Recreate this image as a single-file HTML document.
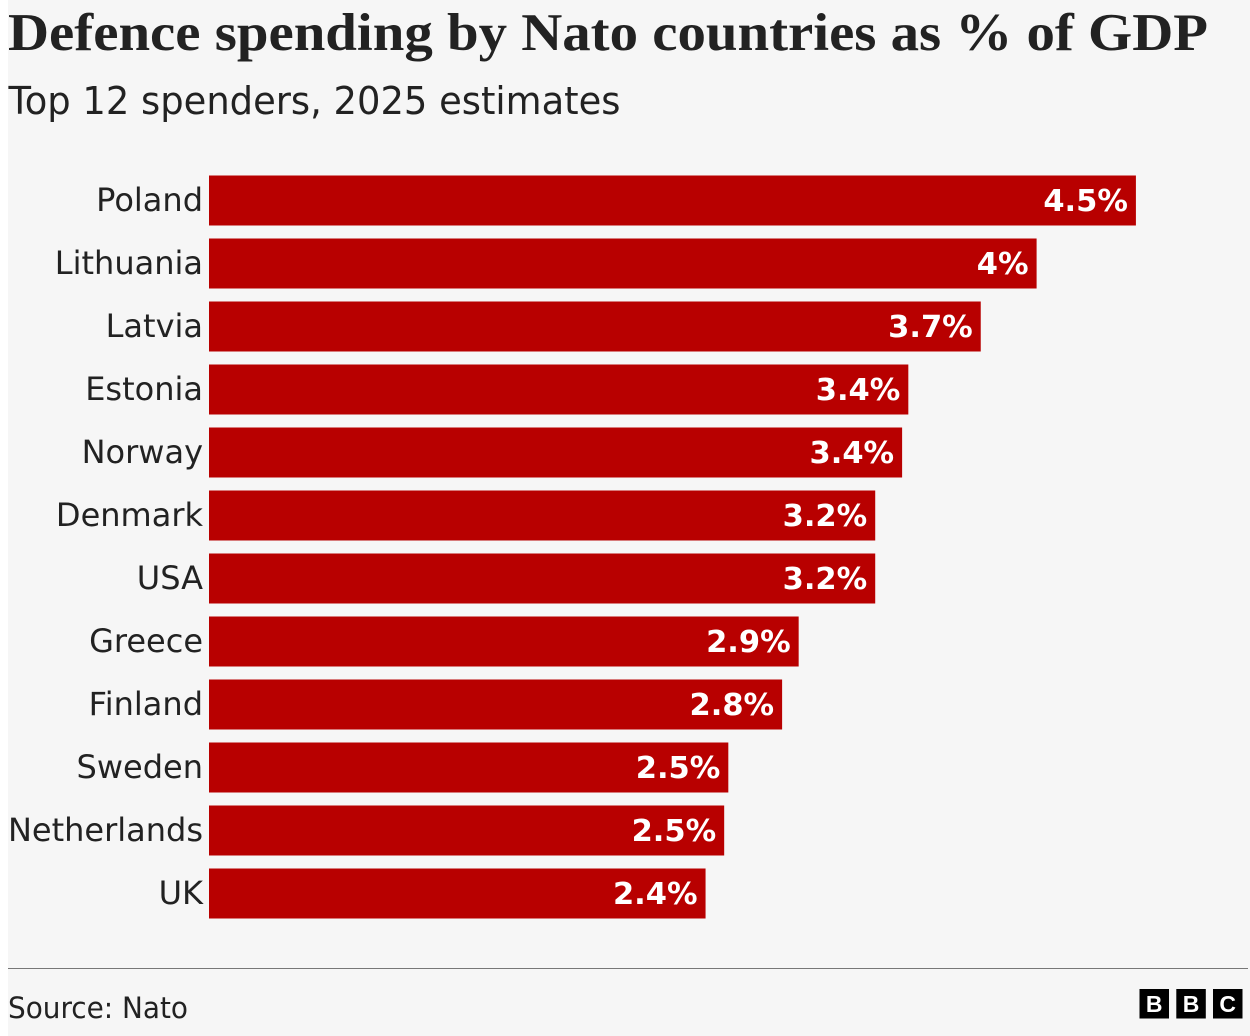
<!DOCTYPE html>
<html lang="en">
<head>
<meta charset="utf-8">
<title>Defence spending by Nato countries as % of GDP</title>
<style>
  html, body { margin: 0; padding: 0; width: 1250px; height: 1036px; background: #ffffff; overflow: hidden; }
  svg { display: block; }
  .cat { font-family: "DejaVu Sans", sans-serif; font-size: 32px; fill: #222222; text-anchor: end; }
  .val { font-family: "DejaVu Sans", sans-serif; font-weight: 700; font-size: 30.5px; fill: #ffffff; text-anchor: end; }
</style>
</head>
<body>
<svg id="chart" xmlns="http://www.w3.org/2000/svg" width="1250" height="1036" viewBox="0 0 1250 1036">
  <rect x="8" y="0" width="1242" height="1036" fill="#f6f6f6"/>
  <text x="8" y="50" font-family="'Liberation Serif', serif" font-weight="700" font-size="53" fill="#222222" textLength="1200" lengthAdjust="spacingAndGlyphs">Defence spending by Nato countries as % of GDP</text>
  <text x="8.5" y="114" font-family="'DejaVu Sans', sans-serif" font-size="38" fill="#222222" textLength="612" lengthAdjust="spacingAndGlyphs">Top 12 spenders, 2025 estimates</text>
  <g id="bars"></g>
  <rect x="8" y="968" width="1240" height="1" fill="#777777"/>
  <text x="8" y="1018" font-family="'DejaVu Sans', sans-serif" font-size="29" fill="#222222" textLength="180" lengthAdjust="spacingAndGlyphs">Source: Nato</text>
  <g>
    <rect x="1139.5" y="989" width="29.5" height="29.5" fill="#000000"/>
    <text x="1154.2" y="1012" text-anchor="middle" font-family="'Liberation Sans', sans-serif" font-weight="700" font-size="23" fill="#ffffff">B</text>
    <rect x="1176.3" y="989" width="29.5" height="29.5" fill="#000000"/>
    <text x="1191" y="1012" text-anchor="middle" font-family="'Liberation Sans', sans-serif" font-weight="700" font-size="23" fill="#ffffff">B</text>
    <rect x="1213" y="989" width="29.5" height="29.5" fill="#000000"/>
    <text x="1227.7" y="1012" text-anchor="middle" font-family="'Liberation Sans', sans-serif" font-weight="700" font-size="23" fill="#ffffff">C</text>
  </g>
</svg>
<script>
const countries = ["Poland", "Lithuania", "Latvia", "Estonia", "Norway", "Denmark", "USA", "Greece", "Finland", "Sweden", "Netherlands", "UK"];
const spending = [4.48, 4.0, 3.73, 3.38, 3.35, 3.22, 3.22, 2.85, 2.77, 2.51, 2.49, 2.4];
const printedLabels = ["4.5%", "4%", "3.7%", "3.4%", "3.4%", "3.2%", "3.2%", "2.9%", "2.8%", "2.5%", "2.5%", "2.4%"];

const NS = "http://www.w3.org/2000/svg";
const xOrigin = 209;
const pxPerUnit = 206.9;
const firstBarTop = 175.5;
const bandStep = 63;
const barHeight = 50;
function xScale(v) { return xOrigin + v * pxPerUnit; }
function yScale(i) { return firstBarTop + i * bandStep; }

const group = document.getElementById("bars");
countries.forEach(function (name, i) {
  const top = yScale(i);
  const end = xScale(spending[i]);
  const baseline = top + 35.5;

  const label = document.createElementNS(NS, "text");
  label.setAttribute("class", "cat");
  label.setAttribute("x", xOrigin - 6);
  label.setAttribute("y", baseline);
  label.textContent = name;
  
  
  group.appendChild(label);

  const bar = document.createElementNS(NS, "rect");
  bar.setAttribute("x", xOrigin);
  bar.setAttribute("y", top);
  bar.setAttribute("width", end - xOrigin);
  bar.setAttribute("height", barHeight);
  bar.setAttribute("fill", "#b80000");
  
  
  group.appendChild(bar);

  const value = document.createElementNS(NS, "text");
  value.setAttribute("class", "val");
  value.setAttribute("x", end - 8);
  value.setAttribute("y", baseline);
  value.textContent = printedLabels[i];
  
  
  group.appendChild(value);
});
</script>
</body>
</html>
